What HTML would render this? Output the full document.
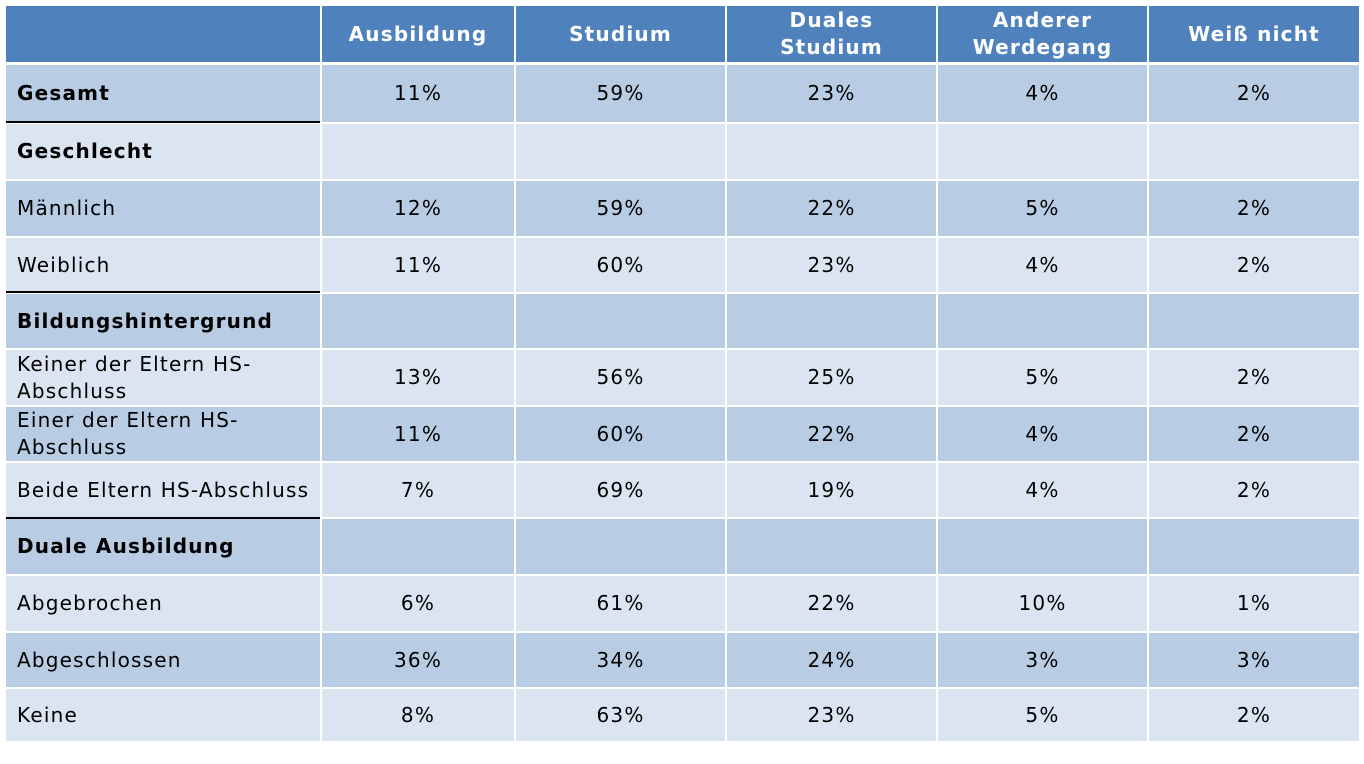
<!DOCTYPE html>
<html><head><meta charset="utf-8"><style>
body{margin:0;width:1364px;height:764px;background:#fff;position:relative;overflow:hidden;font-family:"DejaVu Sans","Liberation Sans",sans-serif;font-size:20px;letter-spacing:1.2px;color:#000}
.c{position:absolute;display:flex;align-items:center;justify-content:center;text-align:center;line-height:27px;box-sizing:border-box}
.l{justify-content:flex-start;text-align:left;padding-left:11px}
.h{background:#4f81bd;color:#fff;font-weight:bold}
.d{background:#b8cce4}.w{background:#dbe5f1}
.b{font-weight:bold}
.k{position:absolute;left:6px;width:314px;height:2px;background:#000}
</style></head><body>
<div id="t"></div>
<script>
var X=[[6,320],[322,514],[516,725],[727,936],[938,1147],[1149,1359]];
var R=[[65,122],[124,179],[181,236],[238,292],[294,348],[350,405],[407,461],[463,517],[519,574],[576,631],[633,687],[689,741]];
var H=["","Ausbildung","Studium","Duales<br>Studium","Anderer<br>Werdegang","Weiß nicht"];
var D=[["Gesamt","11%","59%","23%","4%","2%",1],["Geschlecht","","","","","",1],["Männlich","12%","59%","22%","5%","2%"],["Weiblich","11%","60%","23%","4%","2%"],["Bildungshintergrund","","","","","",1],["Keiner der Eltern HS-<br>Abschluss","13%","56%","25%","5%","2%"],["Einer der Eltern HS-<br>Abschluss","11%","60%","22%","4%","2%"],["Beide Eltern HS-Abschluss","7%","69%","19%","4%","2%"],["Duale Ausbildung","","","","","",1],["Abgebrochen","6%","61%","22%","10%","1%"],["Abgeschlossen","36%","34%","24%","3%","3%"],["Keine","8%","63%","23%","5%","2%"]];
var s="";
for(var j=0;j<6;j++)s+='<div class="c h" style="left:'+X[j][0]+'px;width:'+(X[j][1]-X[j][0])+'px;top:6px;height:56px">'+H[j]+'</div>';
for(var i=0;i<12;i++){var cl=i%2==0?"d":"w";for(var j=0;j<6;j++){s+='<div class="c '+cl+(j==0?' l':'')+(j==0&&D[i][6]?' b':'')+'" style="left:'+X[j][0]+'px;width:'+(X[j][1]-X[j][0])+'px;top:'+R[i][0]+'px;height:'+(R[i][1]-R[i][0])+'px">'+D[i][j]+'</div>';}}
[122,292,518].forEach(function(y){s+='<div class="k" style="top:'+(y-1)+'px"></div>';});
document.getElementById("t").innerHTML=s;
</script>
</body></html>
